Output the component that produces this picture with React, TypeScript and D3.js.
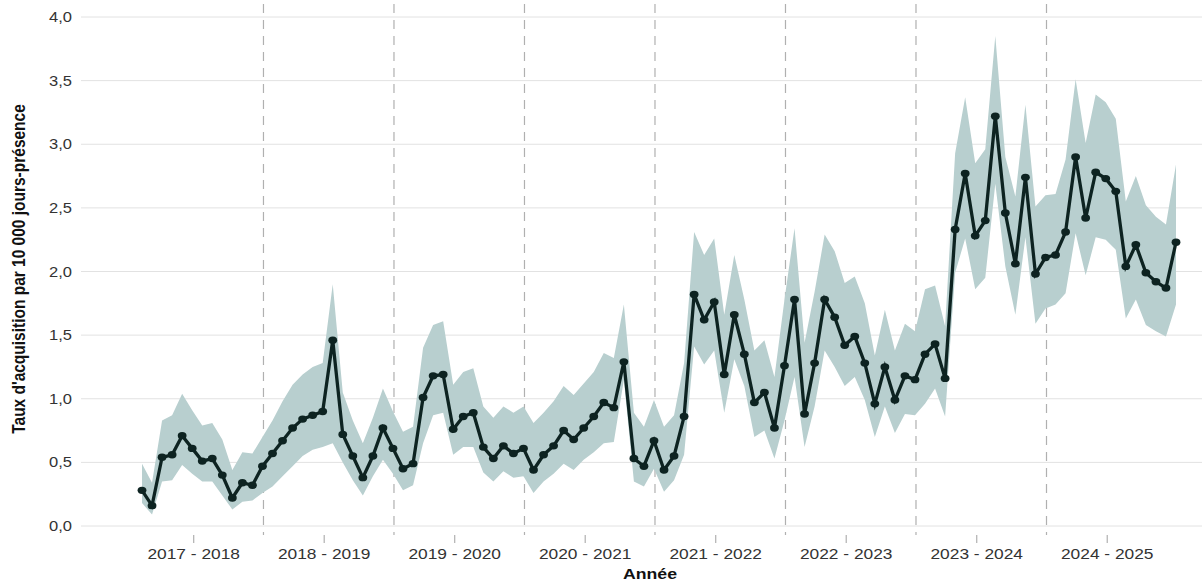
import React, { useEffect, useRef } from 'react';
import * as d3 from 'd3';

// années financières (13 périodes chacune)
const yearLabels = [
  '2017 - 2018', '2018 - 2019', '2019 - 2020', '2020 - 2021',
  '2021 - 2022', '2022 - 2023', '2023 - 2024', '2024 - 2025',
];

// taux par période
const rate = [
  0.28, 0.16, 0.54, 0.56, 0.71, 0.61, 0.51, 0.53, 0.40, 0.22, 0.34, 0.32,
  0.47, 0.57, 0.67, 0.77, 0.84, 0.87, 0.90, 1.46, 0.72, 0.55, 0.38, 0.55, 0.77,
  0.61, 0.45, 0.49, 1.01, 1.18, 1.19, 0.76, 0.86, 0.89, 0.62, 0.53, 0.63, 0.57,
  0.61, 0.44, 0.56, 0.63, 0.75, 0.68, 0.77, 0.86, 0.97, 0.93, 1.29, 0.53, 0.47,
  0.67, 0.44, 0.55, 0.86, 1.82, 1.62, 1.76, 1.19, 1.66, 1.35, 0.97, 1.05, 0.77,
  1.26, 1.78, 0.88, 1.28, 1.78, 1.64, 1.42, 1.49, 1.28, 0.96, 1.25, 0.99, 1.18,
  1.15, 1.35, 1.43, 1.16, 2.33, 2.77, 2.28, 2.40, 3.22, 2.46, 2.06, 2.74, 1.98,
  2.11, 2.13, 2.31, 2.90, 2.42, 2.78, 2.73, 2.63, 2.04, 2.21, 1.99, 1.92, 1.87, 2.23,
];

// intervalle de confiance
const upperCI = [
  0.49, 0.34, 0.83, 0.87, 1.04, 0.91, 0.79, 0.81, 0.68, 0.44, 0.58, 0.57,
  0.70, 0.83, 0.98, 1.11, 1.19, 1.25, 1.28, 1.90, 1.05, 0.83, 0.65, 0.85, 1.08,
  0.90, 0.74, 0.78, 1.40, 1.58, 1.61, 1.11, 1.21, 1.24, 0.94, 0.85, 0.94, 0.89,
  0.94, 0.81, 0.89, 0.98, 1.10, 1.03, 1.12, 1.21, 1.36, 1.32, 1.74, 0.89, 0.78,
  0.99, 0.78, 0.87, 1.28, 2.31, 2.13, 2.26, 1.66, 2.13, 1.78, 1.38, 1.46, 1.17,
  1.78, 2.34, 1.44, 1.84, 2.29, 2.16, 1.91, 1.96, 1.75, 1.34, 1.70, 1.38, 1.59,
  1.53, 1.86, 1.89, 1.57, 2.93, 3.37, 2.85, 2.96, 3.85, 2.90, 2.59, 3.31, 2.51,
  2.60, 2.61, 2.88, 3.51, 3.01, 3.39, 3.33, 3.20, 2.55, 2.75, 2.52, 2.43, 2.37, 2.84,
];

const lowerCI = [
  0.18, 0.09, 0.35, 0.36, 0.48, 0.41, 0.35, 0.35, 0.24, 0.13, 0.19, 0.20,
  0.26, 0.31, 0.39, 0.47, 0.55, 0.60, 0.62, 0.65, 0.50, 0.36, 0.24, 0.39, 0.52,
  0.41, 0.28, 0.32, 0.65, 0.87, 0.89, 0.56, 0.62, 0.62, 0.42, 0.35, 0.43, 0.38,
  0.39, 0.26, 0.35, 0.41, 0.49, 0.44, 0.52, 0.58, 0.65, 0.66, 1.15, 0.35, 0.31,
  0.45, 0.27, 0.36, 0.56, 1.41, 1.27, 1.38, 0.89, 1.31, 1.10, 0.70, 0.75, 0.53,
  0.83, 1.17, 0.62, 0.94, 1.38, 1.25, 1.10, 1.17, 0.99, 0.70, 0.94, 0.73, 0.88,
  0.87, 0.96, 1.08, 0.86, 1.99, 2.26, 1.86, 1.95, 2.69, 2.04, 1.66, 2.27, 1.59,
  1.71, 1.74, 1.83, 2.30, 1.97, 2.27, 2.25, 2.17, 1.63, 1.78, 1.58, 1.53, 1.49, 1.74,
];

const yTicks = [0, 0.5, 1, 1.5, 2, 2.5, 3, 3.5, 4];

const W = 1202, H = 584;
const SX = 1.18; // le rendu d'origine est étiré horizontalement
const FONT = '"Liberation Sans", Arial, sans-serif';

const App = () => {
  const ref = useRef<SVGSVGElement>(null);

  useEffect(() => {
    const svg = d3.select(ref.current);
    svg.selectAll('*').remove();

    const x = d3.scaleLinear().domain([0, rate.length - 1]).range([142, 1176]);
    const y = d3.scaleLinear().domain([0, 4]).range([526, 17]);
    const fmt = (v: number) => d3.format('.1f')(v).replace('.', ',');

    // grille horizontale
    svg.append('g').selectAll('line')
      .data(yTicks)
      .enter().append('line')
      .attr('x1', 81).attr('x2', W)
      .attr('y1', d => y(d)).attr('y2', d => y(d))
      .attr('stroke', '#e2e2e2').attr('stroke-width', 1);

    svg.append('g').selectAll('text')
      .data(yTicks)
      .enter().append('text')
      .attr('transform', d => `translate(72,${y(d) + 5}) scale(${SX},1)`)
      .attr('text-anchor', 'end')
      .attr('font-family', FONT).attr('font-size', 14).attr('fill', '#333')
      .text(d => fmt(d));

    // séparateurs d'années
    const bounds = d3.range(1, yearLabels.length).map(k => 13 * k - 0.9);
    svg.append('g').selectAll('line')
      .data(bounds)
      .enter().append('line')
      .attr('x1', d => x(d)).attr('x2', d => x(d))
      .attr('y1', 4).attr('y2', 535)
      .attr('stroke', '#b0b0b0').attr('stroke-width', 1.2)
      .attr('stroke-dasharray', '9,7');

    // étiquettes d'années
    const mids = yearLabels.map((_, k) => 13 * k + 5.15);
    const xl = svg.append('g');
    xl.selectAll('line')
      .data(mids)
      .enter().append('line')
      .attr('x1', d => x(d)).attr('x2', d => x(d))
      .attr('y1', 535).attr('y2', 543)
      .attr('stroke', '#b0b0b0').attr('stroke-width', 1.2);
    xl.selectAll('text')
      .data(yearLabels)
      .enter().append('text')
      .attr('transform', (d, i) => `translate(${x(mids[i])},559) scale(1.12,1)`)
      .attr('text-anchor', 'middle')
      .attr('font-family', FONT).attr('font-size', 15.5).attr('fill', '#333')
      .text(d => d);

    // bande de confiance
    const idx = d3.range(rate.length);
    const area = d3.area<number>()
      .x(i => x(i))
      .y0(i => y(lowerCI[i]))
      .y1(i => y(upperCI[i]));
    svg.append('path')
      .datum(idx)
      .attr('d', area)
      .attr('fill', '#b8cfcf');

    const line = d3.line<number>()
      .x(i => x(i))
      .y(i => y(rate[i]));
    svg.append('path')
      .datum(idx)
      .attr('d', line)
      .attr('fill', 'none')
      .attr('stroke', '#0d2321')
      .attr('stroke-width', 3.3);

    svg.append('g').selectAll('ellipse')
      .data(idx)
      .enter().append('ellipse')
      .attr('cx', i => x(i)).attr('cy', i => y(rate[i]))
      .attr('rx', 4.4).attr('ry', 3.7)
      .attr('fill', '#0d2321');

    // titres
    svg.append('text')
      .attr('transform', `translate(25,269) scale(${SX},1) rotate(-90)`)
      .attr('text-anchor', 'middle')
      .attr('font-family', FONT).attr('font-size', 15.5).attr('font-weight', 'bold')
      .attr('fill', '#111')
      .text("Taux d'acquisition par 10 000 jours-présence");

    svg.append('text')
      .attr('transform', `translate(650,579) scale(${SX},1)`)
      .attr('text-anchor', 'middle')
      .attr('font-family', FONT).attr('font-size', 15).attr('font-weight', 'bold')
      .attr('fill', '#111')
      .text('Année');
  }, []);

  return (
    <svg
      ref={ref}
      width={W}
      height={H}
      style={{ position: 'absolute', left: 0, top: 0, background: '#fff' }}
    />
  );
};

export default App;
